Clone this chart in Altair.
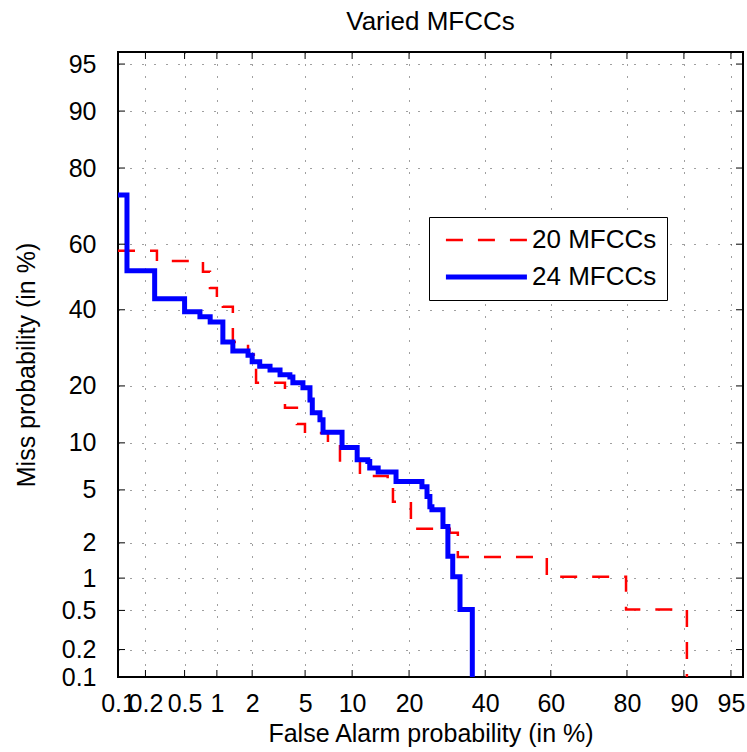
import altair as alt
import pandas as pd
from statistics import NormalDist

# ---------------- data (percent) ----------------
tick_labels = [0.1, 0.2, 0.5, 1, 2, 5, 10, 20, 40, 60, 80, 90, 95]
axis_min_pct = 0.1
axis_max_pct = 95.89

series_names = ["20 MFCCs", "24 MFCCs"]

fa_20 = [0.1, 0.264, 0.747, 0.866, 1.0, 1.13, 1.38, 1.85, 2.15, 3.59, 4.38, 4.99,
         7.1, 8.45, 11.1, 15.7, 16.7, 20.4, 29.9, 32.1, 58.8, 79.8, 90.4]
miss_20 = [58.0, 54.9, 51.6, 46.6, 43.6, 40.9, 30.8, 27.4, 20.7, 15.6, 12.8, 11.4,
           9.9, 7.8, 6.2, 5.25, 4.12, 2.59, 2.41, 1.53, 1.03, 0.51, 0.1]

fa_24 = [0.1, 0.126, 0.25, 0.50, 0.70, 0.87, 1.13, 1.38, 1.85, 2.0, 2.3, 2.77,
         3.3, 3.9, 4.1, 4.83, 5.4, 5.6, 6.3, 6.6, 8.7, 10.7, 12.3, 12.6, 14.0,
         17.3, 22.9, 24.1, 24.8, 25.3, 28.1, 29.4, 30.7, 32.7, 36.2]
miss_24 = [73.7, 51.9, 43.3, 39.4, 37.9, 36.4, 30.8, 28.4, 27.3, 25.6, 24.5, 23.6,
           22.5, 22.0, 20.7, 19.6, 17.1, 14.7, 13.5, 11.5, 9.4, 7.9, 7.7, 7.0, 6.6,
           5.7, 5.25, 4.5, 3.8, 3.6, 2.7, 1.55, 1.03, 0.51, 0.1]

# ---------------- build tables ----------------
rows = []
for name, fas, misses in [(series_names[0], fa_20, miss_20), (series_names[1], fa_24, miss_24)]:
    for i, (f, m) in enumerate(zip(fas, misses)):
        rows.append({"series": name, "fa": f, "miss": m, "idx": i})
df = pd.DataFrame(rows)
tick_df = pd.DataFrame({"v": tick_labels})

nd = NormalDist()
tick_pos = [nd.inv_cdf(v / 100) for v in tick_labels]
dom = [nd.inv_cdf(axis_min_pct / 100), nd.inv_cdf(axis_max_pct / 100)]

FONT = "Liberation Sans"
W = H = 625
TICK = 7

label_expr = "round(cumulativeNormal(datum.value)*1000)/10 + ''"

xscale = alt.Scale(domain=dom, nice=False, zero=False)
yscale = alt.Scale(domain=dom, nice=False, zero=False)

common_axis = dict(
    values=tick_pos, labelExpr=label_expr, grid=True, gridDash=[1, 11],
    gridColor="#000000", gridOpacity=0.75, gridWidth=1, ticks=False, domain=False,
    labelFont=FONT, labelFontSize=25, labelColor="black", labelOverlap=False,
    labelFlush=False, titleFont=FONT, titleFontSize=25, titleFontWeight="normal",
    titleColor="black", titleBaseline="alphabetic", titleAlign="center",
)
xaxis = alt.Axis(title="False Alarm probability (in %)", labelPadding=14,
                 titleX=W / 2, titleY=64, **common_axis)
yaxis = alt.Axis(title="Miss probability (in %)", labelPadding=22,
                 titleX=-84, titleY=H / 2, titleAngle=270, **common_axis)

leg = alt.Legend(
    title=None, orient="none", legendX=311, legendY=165, symbolType="M-0.6,0H7.4",
    symbolSize=410, labelFont=FONT, labelFontSize=26, labelColor="black",
    labelOffset=67, padding=10, rowPadding=11, strokeColor="black",
    fillColor="white", cornerRadius=0, labelLimit=0,
)

lines = alt.Chart(df).transform_calculate(
    px="quantileNormal(datum.fa/100)", py="quantileNormal(datum.miss/100)"
).mark_line(interpolate="step-after", strokeCap="butt", strokeJoin="miter").encode(
    x=alt.X("px:Q", scale=xscale, axis=xaxis),
    y=alt.Y("py:Q", scale=yscale, axis=yaxis),
    color=alt.Color("series:N", scale=alt.Scale(domain=series_names, range=["#ff0000", "#0000ff"]), legend=leg),
    strokeDash=alt.StrokeDash("series:N", scale=alt.Scale(domain=series_names, range=[[17, 15], [1, 0]]), legend=leg),
    strokeWidth=alt.StrokeWidth("series:N", scale=alt.Scale(domain=series_names, range=[2.5, 5]), legend=leg),
    order=alt.Order("idx:Q"),
)

xt = alt.Chart(tick_df).transform_calculate(px="quantileNormal(datum.v/100)")
yt = alt.Chart(tick_df).transform_calculate(py="quantileNormal(datum.v/100)")

bottom_ticks = xt.mark_rule(color="black", strokeWidth=1).encode(
    x=alt.X("px:Q", scale=xscale, axis=xaxis), y=alt.value(H), y2=alt.value(H - TICK))
top_ticks = xt.mark_rule(color="black", strokeWidth=1).encode(
    x=alt.X("px:Q", scale=xscale, axis=xaxis), y=alt.value(0), y2=alt.value(TICK))
left_ticks = yt.mark_rule(color="black", strokeWidth=1).encode(
    y=alt.Y("py:Q", scale=yscale, axis=yaxis), x=alt.value(0), x2=alt.value(TICK))
right_ticks = yt.mark_rule(color="black", strokeWidth=1).encode(
    y=alt.Y("py:Q", scale=yscale, axis=yaxis), x=alt.value(W), x2=alt.value(W - TICK))

chart = alt.layer(lines, bottom_ticks, top_ticks, left_ticks, right_ticks).properties(
    width=W, height=H,
    title=alt.TitleParams("Varied MFCCs", font=FONT, fontSize=26, fontWeight="normal",
                          color="black", baseline="alphabetic", offset=20, anchor="middle",
                          frame="group", dy=24),
    autosize=alt.AutoSizeParams(type="none"),
    padding={"left": 118, "top": 52, "right": 4, "bottom": 75},
    background="white",
).configure_view(stroke="black", strokeWidth=2)

chart.save("out.html", embed_options={"renderer": "svg", "actions": False})
